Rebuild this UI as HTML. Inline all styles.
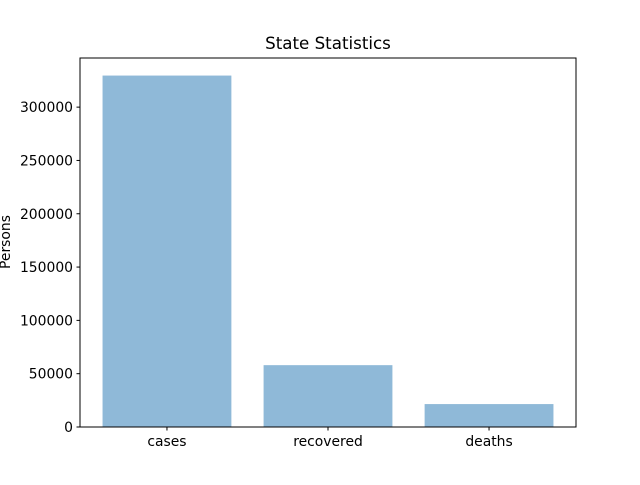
<!DOCTYPE html>
<html><head><meta charset="utf-8"><style>
body{margin:0;background:#fff}
text{font-family:"DejaVu Sans","Liberation Sans",sans-serif;fill:#000}
</style></head><body>
<svg id="chart" width="640" height="480" xmlns="http://www.w3.org/2000/svg">
<rect width="640" height="480" fill="#fff"/>
<text x="328" y="49" font-size="16.7" text-anchor="middle">State Statistics</text>
<text transform="translate(10,242) rotate(-90)" font-size="13.9" text-anchor="middle">Persons</text>
<g id="marks"></g>
<rect x="80" y="58" width="496" height="369" fill="none" stroke="#000" stroke-width="1"/>
</svg>
<script>
const categories = ["cases", "recovered", "deaths"];
const values = [329600, 58000, 21500];
const yTicks = [0, 50000, 100000, 150000, 200000, 250000, 300000];

const L=80,R=576,T=58,B=427;
const yMax=Math.max(...values)*1.05;
const y=v=>B-(v/yMax)*(B-T);
const xMin=-0.54,xMax=categories.length-1+0.54;
const x=i=>L+(i-xMin)/(xMax-xMin)*(R-L);
const bw=0.8*(R-L)/(xMax-xMin);
const g=document.getElementById('marks');
const NS="http://www.w3.org/2000/svg";
function mk(t,a){const e=document.createElementNS(NS,t);for(const k in a)e.setAttribute(k,a[k]);g.appendChild(e);return e;}
values.forEach((v,i)=>{
  const r=mk('rect',{x:x(i)-bw/2,y:y(v),width:bw,height:B-y(v),fill:'#8fb9d8'});
  
  
  const t=mk('line',{x1:x(i),x2:x(i),y1:B,y2:B+3.5,stroke:'#000'});
  
  
  const lb=mk('text',{x:x(i),y:B+19,'font-size':13.9,'text-anchor':'middle'});
  lb.textContent=categories[i];
  
  
});
yTicks.forEach(v=>{
  const t=mk('line',{x1:L-3.5,x2:L,y1:y(v),y2:y(v),stroke:'#000'});
  
  
  const lb=mk('text',{x:L-7,y:y(v)+5,'font-size':13.9,'text-anchor':'end'});
  lb.textContent=v;
  
  
});
</script>
</body></html>
